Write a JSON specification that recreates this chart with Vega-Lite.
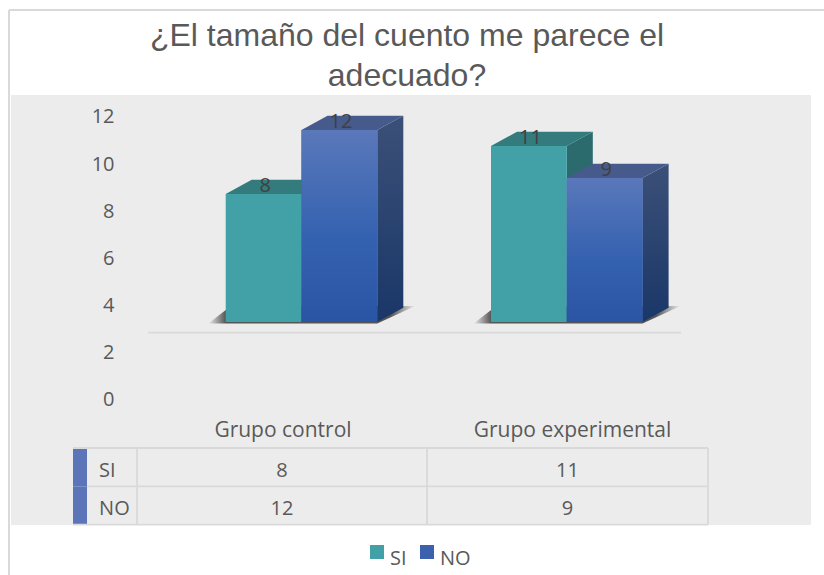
{
"$schema":"https://vega.github.io/schema/vega-lite/v6.json",
"width":800,"height":430,"autosize":"none",
"padding":{"left":11,"top":95,"right":13,"bottom":50},
"background":"#ffffff",
"config":{"view":{"fill":"#ececec","stroke":null},"font":"Open Sans"},
"title":{"text":["¿El tamaño del cuento me parece el","adecuado?"],"font":"Liberation Sans","fontSize":32,"fontWeight":"normal","color":"#595959","anchor":"middle","lineHeight":40,"offset":9,"dx":-4,"dy":93},
"datasets":{
"barras":[{"grupo":"Grupo control","serie":"SI","valor":8},{"grupo":"Grupo control","serie":"NO","valor":12},{"grupo":"Grupo experimental","serie":"SI","valor":11},{"grupo":"Grupo experimental","serie":"NO","valor":9}],
"series":[{"serie":"SI"},{"serie":"NO"}],
"grupos":[{"grupo":"Grupo control"},{"grupo":"Grupo experimental"}],
"filas":[{"fila":0},{"fila":1},{"fila":2}],
"marco":[{"marco":"borde"}]
},
"resolve":{"scale":{"y":"independent"}},
"layer":[
{"data":{"name":"marco"},"mark":{"type":"rule","color":"#d9d9d9","size":2,"clip":false},
 "encoding":{"x":{"datum":-2.859,"type":"quantitative","scale":{"domain":[-2.8325,7.7216],"nice":false,"zero":false},"axis":null},
 "y":{"datum":-11.42,"type":"quantitative","scale":{"domain":[-9.205,2.008],"reverse":true,"nice":false,"zero":false},"axis":null},"y2":{"datum":3.31}}},
{"data":{"name":"marco"},"mark":{"type":"rule","color":"#d9d9d9","size":2,"clip":false},
 "encoding":{"x":{"datum":-2.859,"type":"quantitative","scale":{"domain":[-2.8325,7.7216],"nice":false,"zero":false},"axis":null},"x2":{"datum":7.893},
 "y":{"datum":-11.42,"type":"quantitative","scale":{"domain":[-9.205,2.008],"reverse":true,"nice":false,"zero":false},"axis":null}}},
{"data":{"name":"barras"},"mark":{"type":"point","opacity":0},
 "encoding":{"x":{"datum":0,"type":"quantitative","scale":{"domain":[-2.8325,7.7216],"nice":false,"zero":false},"axis":null},
 "y":{"field":"valor","type":"quantitative","scale":{"domain":[-5.30,12.93],"nice":false,"zero":false},
 "axis":{"orient":"left","values":[0,2,4,6,8,10,12],"title":null,"domain":false,"ticks":false,"grid":false,"labelPadding":0,"offset":-103,"labelFont":"Open Sans","labelFontSize":20,"labelColor":"#595959","labelFlush":false,"labelOverlap":false}}}},
{"data":{"name":"marco"},"mark":{"type":"rule","color":"#d9d9d9","size":1.8},
 "encoding":{"x":{"datum":-1.025,"type":"quantitative","scale":{"domain":[-2.8325,7.7216],"nice":false,"zero":false},"axis":null},"x2":{"datum":6.007},
 "y":{"datum":-0.67,"type":"quantitative","scale":{"domain":[-12.6875,14.1875],"nice":false,"zero":false},"axis":null}}},
{"data":{"name":"grupos"},
 "transform":[{"calculate":"datum.grupo=='Grupo control'?0:3.5","as":"x0"},{"calculate":"[0,1]","as":"t"},{"flatten":["t"]},
 {"calculate":"datum.x0-0.23+datum.t*0.3","as":"xa"},{"calculate":"datum.x0+2+datum.t*0.5","as":"xb"},{"calculate":"-0.1+datum.t*1.1","as":"ya"}],
 "mark":{"type":"area","orient":"horizontal","color":{"gradient":"linear","x1":0,"y1":0,"x2":1,"y2":0,"stops":[{"offset":0,"color":"#ececec"},{"offset":0.085,"color":"#555555"},{"offset":0.88,"color":"#555555"},{"offset":1,"color":"#ececec"}]}},
 "encoding":{"detail":{"field":"grupo"},"x":{"field":"xa","type":"quantitative","scale":{"domain":[-2.8325,7.7216],"nice":false,"zero":false},"axis":null},"x2":{"field":"xb"},
 "y":{"field":"ya","type":"quantitative","scale":{"domain":[-12.6875,14.1875],"nice":false,"zero":false},"axis":null}}},
{"data":{"name":"barras"},
 "transform":[{"filter":"datum.serie=='SI'"},{"calculate":"(datum.grupo=='Grupo control'?0:3.5)","as":"x0"},{"calculate":"[0,1]","as":"t"},{"flatten":["t"]},
 {"calculate":"datum.x0+1+datum.t*0.343","as":"xa"},{"calculate":"datum.valor+datum.t*0.894","as":"ya"},{"calculate":"datum.t*0.894","as":"yb"}],
 "mark":{"type":"area","color":"#2b6b6e"},
 "encoding":{"detail":{"field":"grupo"},"x":{"field":"xa","type":"quantitative","scale":{"domain":[-2.8325,7.7216],"nice":false,"zero":false},"axis":null},
 "y":{"field":"ya","type":"quantitative","stack":null,"scale":{"domain":[-12.6875,14.1875],"nice":false,"zero":false},"axis":null},"y2":{"field":"yb"}}},
{"data":{"name":"barras"},
 "transform":[{"filter":"datum.serie=='SI'"},{"calculate":"(datum.grupo=='Grupo control'?0:3.5)","as":"x0"},{"calculate":"[0,1]","as":"t"},{"flatten":["t"]},
 {"calculate":"datum.x0+datum.t*0.343","as":"xa"},{"calculate":"datum.x0+1+datum.t*0.343","as":"xb"},{"calculate":"datum.valor+datum.t*0.894","as":"ya"}],
 "mark":{"type":"area","orient":"horizontal","color":"#337b7d"},
 "encoding":{"detail":{"field":"grupo"},"x":{"field":"xa","type":"quantitative","scale":{"domain":[-2.8325,7.7216],"nice":false,"zero":false},"axis":null},"x2":{"field":"xb"},
 "y":{"field":"ya","type":"quantitative","scale":{"domain":[-12.6875,14.1875],"nice":false,"zero":false},"axis":null}}},
{"data":{"name":"barras"},
 "transform":[{"calculate":"(datum.grupo=='Grupo control'?0:3.5)+(datum.serie=='NO'?1:0)","as":"x0"},{"calculate":"datum.x0+1","as":"x1"}],
 "mark":{"type":"rect"},
 "encoding":{"x":{"field":"x0","type":"quantitative","scale":{"domain":[-2.8325,7.7216],"nice":false,"zero":false},"axis":null},"x2":{"field":"x1"},
 "y":{"field":"valor","type":"quantitative","stack":null,"scale":{"domain":[-12.6875,14.1875],"nice":false,"zero":false},"axis":null},"y2":{"datum":0},
 "color":{"field":"serie","type":"nominal","scale":{"domain":["SI","NO"],"range":["#42a0a7","#3a60ae"]},
 "legend":{"orient":"none","legendX":356,"legendY":447,"direction":"horizontal","columns":2,"title":null,"padding":0,"symbolType":"square","symbolSize":196,"symbolStrokeWidth":0,"labelFont":"Open Sans","labelFontSize":20,"labelColor":"#595959","labelOffset":3,"columnPadding":10,"encode":{"labels":{"update":{"dy":{"value":7}}}}}}}},
{"data":{"name":"barras"},
 "transform":[{"filter":"datum.serie=='NO'"},{"calculate":"(datum.grupo=='Grupo control'?1:4.5)","as":"x0"},{"calculate":"[0,1]","as":"t"},{"flatten":["t"]},
 {"calculate":"datum.x0+1+datum.t*0.343","as":"xa"},{"calculate":"datum.valor+datum.t*0.894","as":"ya"},{"calculate":"datum.t*0.894","as":"yb"}],
 "mark":{"type":"area","color":{"gradient":"linear","x1":0,"y1":0,"x2":0,"y2":1,"stops":[{"offset":0,"color":"#3b5078"},{"offset":1,"color":"#1a3768"}]}},
 "encoding":{"detail":{"field":"grupo"},"x":{"field":"xa","type":"quantitative","scale":{"domain":[-2.8325,7.7216],"nice":false,"zero":false},"axis":null},
 "y":{"field":"ya","type":"quantitative","stack":null,"scale":{"domain":[-12.6875,14.1875],"nice":false,"zero":false},"axis":null},"y2":{"field":"yb"}}},
{"data":{"name":"barras"},
 "transform":[{"filter":"datum.serie=='NO'"},{"calculate":"(datum.grupo=='Grupo control'?1:4.5)","as":"x0"},{"calculate":"[0,1]","as":"t"},{"flatten":["t"]},
 {"calculate":"datum.x0+datum.t*0.343","as":"xa"},{"calculate":"datum.x0+1+datum.t*0.343","as":"xb"},{"calculate":"datum.valor+datum.t*0.894","as":"ya"}],
 "mark":{"type":"area","orient":"horizontal","color":"#465b8b"},
 "encoding":{"detail":{"field":"grupo"},"x":{"field":"xa","type":"quantitative","scale":{"domain":[-2.8325,7.7216],"nice":false,"zero":false},"axis":null},"x2":{"field":"xb"},
 "y":{"field":"ya","type":"quantitative","scale":{"domain":[-12.6875,14.1875],"nice":false,"zero":false},"axis":null}}},
{"data":{"name":"barras"},
 "transform":[{"filter":"datum.serie=='NO'"},{"calculate":"(datum.grupo=='Grupo control'?1:4.5)","as":"x0"},{"calculate":"datum.x0+1","as":"x1"}],
 "mark":{"type":"rect","color":{"gradient":"linear","x1":0,"y1":0,"x2":0,"y2":1,"stops":[{"offset":0,"color":"#5a78ba"},{"offset":0.55,"color":"#3562b0"},{"offset":1,"color":"#2a55a5"}]}},
 "encoding":{"x":{"field":"x0","type":"quantitative","scale":{"domain":[-2.8325,7.7216],"nice":false,"zero":false},"axis":null},"x2":{"field":"x1"},
 "y":{"field":"valor","type":"quantitative","stack":null,"scale":{"domain":[-12.6875,14.1875],"nice":false,"zero":false},"axis":null},"y2":{"datum":0}}},
{"data":{"name":"barras"},
 "transform":[{"calculate":"(datum.grupo=='Grupo control'?0:3.5)+(datum.serie=='NO'?1:0)+0.5","as":"xc"}],
 "mark":{"type":"text","font":"Open Sans","fontSize":20,"color":"#404040","baseline":"middle","dx":1.5,"dy":-8},
 "encoding":{"x":{"field":"xc","type":"quantitative","scale":{"domain":[-2.8325,7.7216],"nice":false,"zero":false},"axis":null},
 "y":{"field":"valor","type":"quantitative","stack":null,"scale":{"domain":[-12.6875,14.1875],"nice":false,"zero":false},"axis":null},"text":{"field":"valor","type":"quantitative"}}},
{"data":{"name":"series"},
 "transform":[{"calculate":"datum.serie=='SI'?0:1","as":"f0"},{"calculate":"datum.f0+1","as":"f1"}],
 "mark":{"type":"rect","color":"#5b75b8"},
 "encoding":{"x":{"datum":-2.0145,"type":"quantitative","scale":{"domain":[-2.8325,7.7216],"nice":false,"zero":false},"axis":null},"x2":{"datum":-1.83},
 "y":{"field":"f0","type":"quantitative","stack":null,"scale":{"domain":[-9.205,2.008],"reverse":true,"nice":false,"zero":false},"axis":null},"y2":{"field":"f1"}}},
{"data":{"name":"filas"},"transform":[{"calculate":"datum.fila==1?-1.83:-2.0145","as":"xa"}],
 "mark":{"type":"rule","color":"#d9d9d9","size":1.8,"clip":false},
 "encoding":{"x":{"field":"xa","type":"quantitative","scale":{"domain":[-2.8325,7.7216],"nice":false,"zero":false},"axis":null},"x2":{"datum":6.363},
 "y":{"field":"fila","type":"quantitative","scale":{"domain":[-9.205,2.008],"reverse":true,"nice":false,"zero":false},"axis":null}}},
{"data":{"name":"marco"},"transform":[{"calculate":"[-1.17,2.656,6.363]","as":"col"},{"flatten":["col"]}],
 "mark":{"type":"rule","color":"#d9d9d9","size":1.8,"clip":false},
 "encoding":{"x":{"field":"col","type":"quantitative","scale":{"domain":[-2.8325,7.7216],"nice":false,"zero":false},"axis":null},
 "y":{"datum":0,"type":"quantitative","scale":{"domain":[-9.205,2.008],"reverse":true,"nice":false,"zero":false},"axis":null},"y2":{"datum":2}}},
{"data":{"name":"barras"},
 "transform":[{"calculate":"datum.grupo=='Grupo control'?0.7427:4.509","as":"xc"},{"calculate":"datum.serie=='SI'?0.6:1.6","as":"f"}],
 "mark":{"type":"text","font":"Open Sans","fontSize":20,"color":"#595959","baseline":"middle"},
 "encoding":{"x":{"field":"xc","type":"quantitative","scale":{"domain":[-2.8325,7.7216],"nice":false,"zero":false},"axis":null},
 "y":{"field":"f","type":"quantitative","scale":{"domain":[-9.205,2.008],"reverse":true,"nice":false,"zero":false},"axis":null},"text":{"field":"valor","type":"quantitative"}}},
{"data":{"name":"series"},
 "transform":[{"calculate":"datum.serie=='SI'?0.6:1.6","as":"f"}],
 "mark":{"type":"text","font":"Open Sans","fontSize":20,"color":"#595959","baseline":"middle","align":"left"},
 "encoding":{"x":{"datum":-1.67,"type":"quantitative","scale":{"domain":[-2.8325,7.7216],"nice":false,"zero":false},"axis":null},
 "y":{"field":"f","type":"quantitative","scale":{"domain":[-9.205,2.008],"reverse":true,"nice":false,"zero":false},"axis":null},"text":{"field":"serie"}}},
{"data":{"name":"grupos"},
 "transform":[{"calculate":"datum.grupo=='Grupo control'?0.756:4.575","as":"xc"}],
 "mark":{"type":"text","font":"Open Sans","fontSize":21,"color":"#595959","baseline":"middle"},
 "encoding":{"x":{"field":"xc","type":"quantitative","scale":{"domain":[-2.8325,7.7216],"nice":false,"zero":false},"axis":null},
 "y":{"datum":-0.45,"type":"quantitative","scale":{"domain":[-9.205,2.008],"reverse":true,"nice":false,"zero":false},"axis":null},"text":{"field":"grupo"}}}
]
}
